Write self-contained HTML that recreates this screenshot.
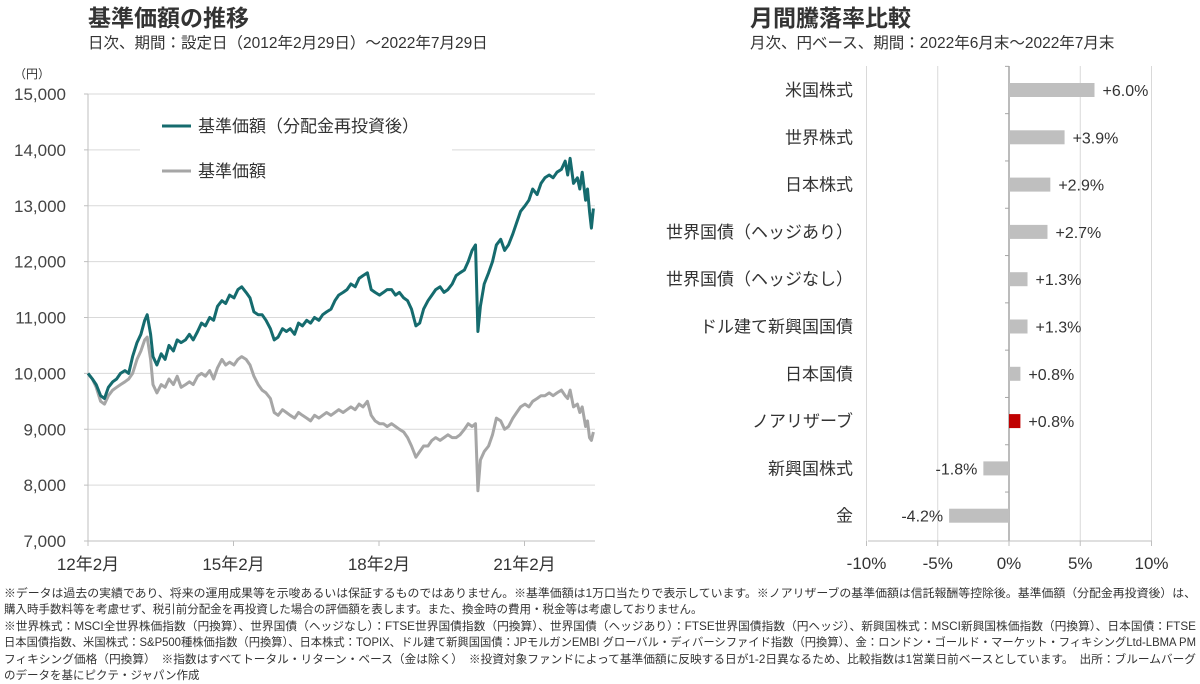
<!DOCTYPE html>
<html><head><meta charset="utf-8">
<style>
html,body{margin:0;padding:0;background:#fff;}
body{width:1200px;height:682px;overflow:hidden;position:relative;font-family:"Liberation Sans","Noto Sans CJK JP",sans-serif;color:#333;}
.foot{position:absolute;left:4px;top:586px;width:1194px;font-size:11.5px;line-height:16.4px;color:#333;}
.foot div{white-space:nowrap;transform-origin:0 0;}
</style></head>
<body>
<svg id="chart" width="1200" height="585" style="position:absolute;left:0;top:0" font-family="Liberation Sans, Noto Sans CJK JP, sans-serif">
<text x="88" y="26" font-size="23" font-weight="bold" fill="#333">基準価額の推移</text>
<text x="88" y="48" font-size="15.5" fill="#333">日次、期間：設定日（2012年2月29日）～2022年7月29日</text>
<text x="750" y="26" font-size="23" font-weight="bold" fill="#333">月間騰落率比較</text>
<text x="750" y="48" font-size="15.5" fill="#333">月次、円ベース、期間：2022年6月末～2022年7月末</text>
<text x="14" y="78" font-size="12" fill="#333">（円）</text>
<g id="left"></g>
<g id="right"></g>
</svg>
<div class="foot">
<div class="fit">※データは過去の実績であり、将来の運用成果等を示唆あるいは保証するものではありません。※基準価額は1万口当たりで表示しています。※ノアリザーブの基準価額は信託報酬等控除後。基準価額（分配金再投資後）は、</div>
<div>購入時手数料等を考慮せず、税引前分配金を再投資した場合の評価額を表します。また、換金時の費用・税金等は考慮しておりません。</div>
<div class="fit">※世界株式：MSCI全世界株価指数（円換算）、世界国債（ヘッジなし）：FTSE世界国債指数（円換算）、世界国債（ヘッジあり）：FTSE世界国債指数（円ヘッジ）、新興国株式：MSCI新興国株価指数（円換算）、日本国債：FTSE</div>
<div class="fit">日本国債指数、米国株式：S&amp;P500種株価指数（円換算）、日本株式：TOPIX、ドル建て新興国国債：JPモルガンEMBI グローバル・ディバーシファイド指数（円換算）、金：ロンドン・ゴールド・マーケット・フィキシングLtd-LBMA PM</div>
<div class="fit">フィキシング価格（円換算）　※指数はすべてトータル・リターン・ベース（金は除く）　※投資対象ファンドによって基準価額に反映する日が1-2日異なるため、比較指数は1営業日前ベースとしています。　出所：ブルームバーグ</div>
<div>のデータを基にピクテ・ジャパン作成</div>
</div>
<script>
// ---- left chart data ----
const dates = [2012.16,2012.25,2012.33,2012.42,2012.5,2012.58,2012.67,2012.75,2012.83,2012.92,2013.0,2013.08,2013.17,2013.25,2013.33,2013.38,2013.45,2013.5,2013.58,2013.67,2013.75,2013.83,2013.92,2014.0,2014.08,2014.17,2014.25,2014.33,2014.42,2014.5,2014.58,2014.67,2014.75,2014.83,2014.92,2015.0,2015.08,2015.17,2015.25,2015.33,2015.42,2015.5,2015.58,2015.67,2015.75,2015.83,2015.92,2016.0,2016.08,2016.17,2016.25,2016.33,2016.42,2016.5,2016.58,2016.67,2016.75,2016.83,2016.92,2017.0,2017.08,2017.17,2017.25,2017.33,2017.42,2017.5,2017.58,2017.67,2017.75,2017.83,2017.92,2018.0,2018.08,2018.17,2018.25,2018.33,2018.42,2018.5,2018.58,2018.67,2018.75,2018.83,2018.92,2019.0,2019.08,2019.17,2019.25,2019.33,2019.42,2019.5,2019.58,2019.67,2019.75,2019.83,2019.92,2020.0,2020.08,2020.15,2020.2,2020.25,2020.33,2020.42,2020.5,2020.58,2020.67,2020.75,2020.83,2020.92,2021.0,2021.08,2021.17,2021.25,2021.33,2021.42,2021.5,2021.58,2021.67,2021.75,2021.83,2021.92,2022.0,2022.05,2022.1,2022.17,2022.25,2022.3,2022.35,2022.42,2022.46,2022.5,2022.54,2022.58];
const reinvested = [10000,9900,9800,9600,9550,9750,9850,9900,10000,10050,10000,10300,10550,10700,10950,11050,10700,10300,10150,10350,10250,10500,10400,10600,10550,10600,10700,10600,10750,10900,10850,11000,10950,11200,11300,11250,11400,11350,11500,11550,11450,11350,11100,11050,11050,10950,10800,10600,10650,10800,10750,10800,10700,10900,10850,10950,10900,11000,10950,11050,11100,11150,11300,11400,11450,11500,11600,11550,11700,11750,11800,11500,11450,11400,11450,11500,11500,11400,11450,11350,11300,11150,10850,10900,11150,11300,11400,11500,11550,11450,11500,11600,11750,11800,11850,12000,12200,12300,10750,11200,11600,11800,12000,12300,12400,12200,12300,12500,12700,12900,13000,13100,13300,13200,13400,13500,13550,13500,13600,13650,13800,13550,13850,13400,13500,13300,13600,13100,13300,12900,12600,12950];
const baseNav = [10000,9900,9750,9500,9450,9600,9700,9750,9800,9850,9900,10000,10250,10400,10600,10650,10250,9800,9650,9800,9750,9900,9800,9950,9750,9800,9850,9800,9950,10000,9950,10050,9900,10100,10250,10150,10200,10150,10250,10300,10250,10150,9950,9800,9700,9650,9550,9300,9250,9350,9300,9250,9200,9300,9250,9200,9150,9250,9200,9250,9300,9250,9300,9350,9300,9350,9400,9350,9450,9400,9500,9250,9150,9100,9100,9050,9100,9050,9000,8950,8850,8700,8500,8600,8700,8700,8800,8850,8800,8850,8900,8850,8850,8900,9000,9100,9050,9100,7900,8450,8600,8700,8900,9200,9150,9000,9050,9200,9300,9400,9450,9400,9500,9550,9600,9600,9650,9600,9650,9700,9600,9550,9700,9400,9450,9300,9400,9050,9150,8850,8800,8950];
const yTicks = [7000,8000,9000,10000,11000,12000,13000,14000,15000];
const xTickDates = [2012.16,2015.16,2018.16,2021.16];
const xTickLabels = ["12年2月","15年2月","18年2月","21年2月"];
// ---- right chart data ----
const categories = ["米国株式","世界株式","日本株式","世界国債（ヘッジあり）","世界国債（ヘッジなし）","ドル建て新興国国債","日本国債","ノアリザーブ","新興国株式","金"];
const returns = [6.0,3.9,2.9,2.7,1.3,1.3,0.8,0.8,-1.8,-4.2];
const returnLabels = ["+6.0%","+3.9%","+2.9%","+2.7%","+1.3%","+1.3%","+0.8%","+0.8%","-1.8%","-4.2%"];
const pctTicks = [-10,-5,0,5,10];
const pctTickLabels = ["-10%","-5%","0%","5%","10%"];

const NS="http://www.w3.org/2000/svg";
function mk(parent,tag,attrs,text){const e=document.createElementNS(NS,tag);for(const k in attrs)e.setAttribute(k,attrs[k]);if(text!=null)e.textContent=text;parent.appendChild(e);return e;}
function fmt(n){return n.toString().replace(/\B(?=(\d{3})+(?!\d))/g,",");}

const L={x0:88,x1:595,y0:541,y1:94};
const xScale=d=>L.x0+(d-2012.16)*48.5;
const yScale=v=>L.y0-(v-7000)/8000*(L.y0-L.y1);
const left=document.getElementById('left');
yTicks.forEach(t=>{
  const y=yScale(t);
  if(t>7000){const g=mk(left,'line',{x1:L.x0,x2:L.x1,y1:y,y2:y,stroke:'#d9d9d9','stroke-width':1});
  
  }
  const tk=mk(left,'line',{x1:L.x0-4,x2:L.x0,y1:y,y2:y,stroke:'#bfbfbf'});
  
  
  const tx=mk(left,'text',{x:66,y:y+6,'text-anchor':'end','font-size':17,fill:'#444'},fmt(t));
  
  
});
const ya=mk(left,'line',{x1:L.x0,x2:L.x0,y1:L.y1,y2:L.y0,stroke:'#bfbfbf'});


const xa=mk(left,'line',{x1:L.x0,x2:L.x1,y1:L.y0,y2:L.y0,stroke:'#bfbfbf'});


xTickDates.forEach((d,i)=>{
  const x=xScale(d);
  const tk=mk(left,'line',{x1:x,x2:x,y1:L.y0,y2:L.y0+5,stroke:'#bfbfbf'});
  
  
  const tx=mk(left,'text',{x:x,y:570,'text-anchor':'middle','font-size':17,fill:'#333'},xTickLabels[i]);
  
  
});
const lb=mk(left,'rect',{x:140,y:105,width:312,height:85,fill:'#fff'});


function series(vals,color,name){
  const pts=dates.map((d,i)=>xScale(d).toFixed(1)+','+yScale(vals[i]).toFixed(1)).join(' ');
  const p=mk(left,'polyline',{points:pts,fill:'none',stroke:color,'stroke-width':3,'stroke-linejoin':'round'});
  
  
}
series(baseNav,'#a6a6a6','nav-line');
series(reinvested,'#156b6e','nav-reinvested-line');
[[126,'#156b6e','基準価額（分配金再投資後）','legend-entry-reinvested'],[171,'#a6a6a6','基準価額','legend-entry-nav']].forEach(l=>{
  const g=mk(left,'g',{});
  
  
  mk(g,'line',{x1:162,x2:191,y1:l[0],y2:l[0],stroke:l[1],'stroke-width':3});
  mk(g,'text',{x:198,y:l[0]+6,'font-size':17,fill:'#333'},l[2]);
});

const R={x0:868,x1:1152,top:66,bottom:541,rowTop:90,rowStep:47.3};
const px=v=>1009+v*14.25;
const right=document.getElementById('right');
pctTicks.forEach((t,i)=>{
  const x=px(t);
  const g=mk(right,'line',{x1:x,x2:x,y1:R.top,y2:R.bottom,stroke:t===0?'#a6a6a6':'#d9d9d9','stroke-width':t===0?1.5:1});
  
  
  const tk=mk(right,'line',{x1:x,x2:x,y1:R.bottom,y2:R.bottom+5,stroke:'#bfbfbf'});
  
  
  const tx=mk(right,'text',{x:x,y:569,'text-anchor':'middle','font-size':17,fill:'#333'},pctTickLabels[i]);
  
  
});
const rxa=mk(right,'line',{x1:R.x0,x2:R.x1,y1:R.bottom,y2:R.bottom,stroke:'#bfbfbf'});


categories.forEach((c,i)=>{
  const cy=R.rowTop+i*R.rowStep;
  const tk=mk(right,'line',{x1:1005,x2:1009,y1:cy-R.rowStep/2,y2:cy-R.rowStep/2,stroke:'#a6a6a6'});
  
  
  const lab=mk(right,'text',{x:853,y:cy+6,'text-anchor':'end','font-size':17,fill:'#333'},c);
  
  
  const v=returns[i];
  const x0=Math.min(px(0),px(v)),w=Math.abs(px(v)-px(0));
  const b=mk(right,'rect',{x:x0,y:cy-7,width:w,height:14,fill:c==='ノアリザーブ'?'#c00000':'#bfbfbf'});
  
  
  const vl=mk(right,'text',{x:v>=0?px(v)+8:px(v)-6,y:cy+6,'text-anchor':v>=0?'start':'end','font-size':16,fill:'#333'},returnLabels[i]);
  
  
});
// fit footnote lines to full width
document.querySelectorAll('.foot .fit').forEach(d=>{
  d.style.display='inline-block';
  const w=d.getBoundingClientRect().width;
  d.style.display='block';
  d.style.transform='scaleX('+(1192/w)+')';
});
</script>
</body></html>
